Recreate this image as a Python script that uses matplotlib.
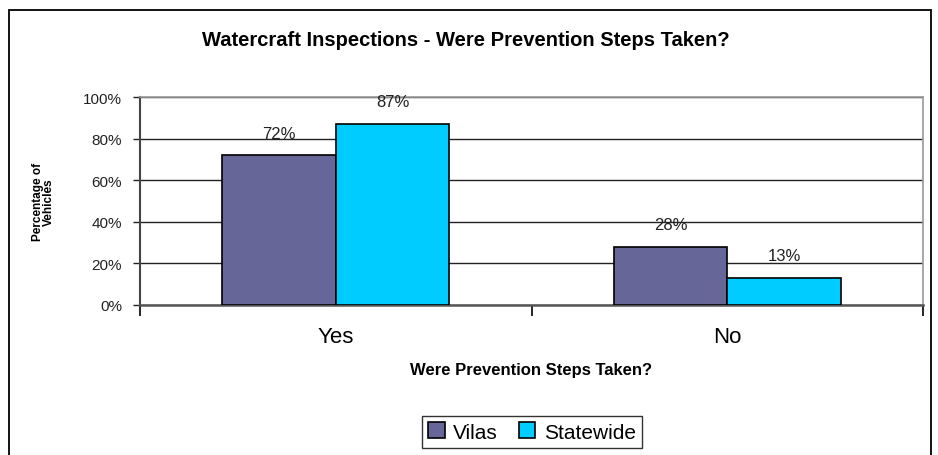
import numpy as np
import matplotlib.pyplot as plt
from matplotlib.patches import Rectangle
from matplotlib.ticker import PercentFormatter

categories = ["Yes", "No"]
vilas = [0.72, 0.28]
statewide = [0.87, 0.13]
series_names = ["Vilas", "Statewide"]
colors = ["#666699", "#00CCFF"]

plt.rcParams['font.family'] = ['Liberation Sans', 'DejaVu Sans']

fig = plt.figure(figsize=(9.38, 4.56), dpi=100)

# outer chart border
fig.patches.append(Rectangle((9 / 938, -0.02), (931 - 9) / 938, (456 - 11) / 456 + 0.02,
                             transform=fig.transFigure, fill=False,
                             edgecolor="black", linewidth=1.3))

ax = fig.add_axes([140 / 938, (456 - 306) / 456, (923 - 140) / 938, (306 - 98) / 456])

x = np.arange(len(categories))
w = 0.29
b1 = ax.bar(x - w / 2, vilas, w, color=colors[0], edgecolor="black", linewidth=1.2,
            label=series_names[0], zorder=3)
b2 = ax.bar(x + w / 2, statewide, w, color=colors[1], edgecolor="black", linewidth=1.2,
            label=series_names[1], zorder=3)

for bars, vals in [(b1, vilas), (b2, statewide)]:
    for r, v in zip(bars, vals):
        ax.text(r.get_x() + r.get_width() / 2, v + 0.07, f"{round(v * 100)}%",
                ha="center", va="bottom", fontsize=12, color="#222222")

ax.set_xlim(-0.5, 1.5)
ax.set_ylim(0, 1)
ax.set_yticks(np.arange(0, 1.01, 0.2))
ax.yaxis.set_major_formatter(PercentFormatter(1.0, decimals=0))
ax.grid(axis="y", color="#222222", linewidth=1.0, zorder=0)

ax.set_xticks(x)
ax.set_xticklabels(categories, fontsize=16)
ax.tick_params(axis="x", length=0, pad=15)
ax.set_xticks([-0.5, 0.5, 1.5], minor=True)
ax.tick_params(axis="x", which="minor", length=8, width=1.2, color="black")
ax.tick_params(axis="y", length=5, width=1, labelsize=11, pad=8, colors="#222222")

for s in ["top", "right"]:
    ax.spines[s].set_color("#999999")
    ax.spines[s].set_linewidth(1.2)
ax.spines["left"].set_color("#444444")
ax.spines["left"].set_linewidth(1.5)
ax.spines["bottom"].set_color("#555555")
ax.spines["bottom"].set_linewidth(1.8)

ax.set_xlabel("Were Prevention Steps Taken?", fontsize=12, fontweight="bold",
              labelpad=11)
ax.set_ylabel("Percentage of\nVehicles", fontsize=8.5, fontweight="bold",
              labelpad=20, linespacing=0.9)

fig.text(466 / 938, 1 - 41 / 456, "Watercraft Inspections - Were Prevention Steps Taken?",
         ha="center", va="center", fontsize=14.5, fontweight="bold")

leg = fig.legend(loc="center", bbox_to_anchor=(532 / 938, 1 - 433 / 456), ncol=2,
                 fontsize=15, frameon=True, fancybox=False, edgecolor="black",
                 handlelength=0.8, handleheight=0.8, handletextpad=0.4,
                 columnspacing=1.0, borderpad=0.3)
leg.get_frame().set_linewidth(1.0)

fig.savefig("out.png", dpi=100)
